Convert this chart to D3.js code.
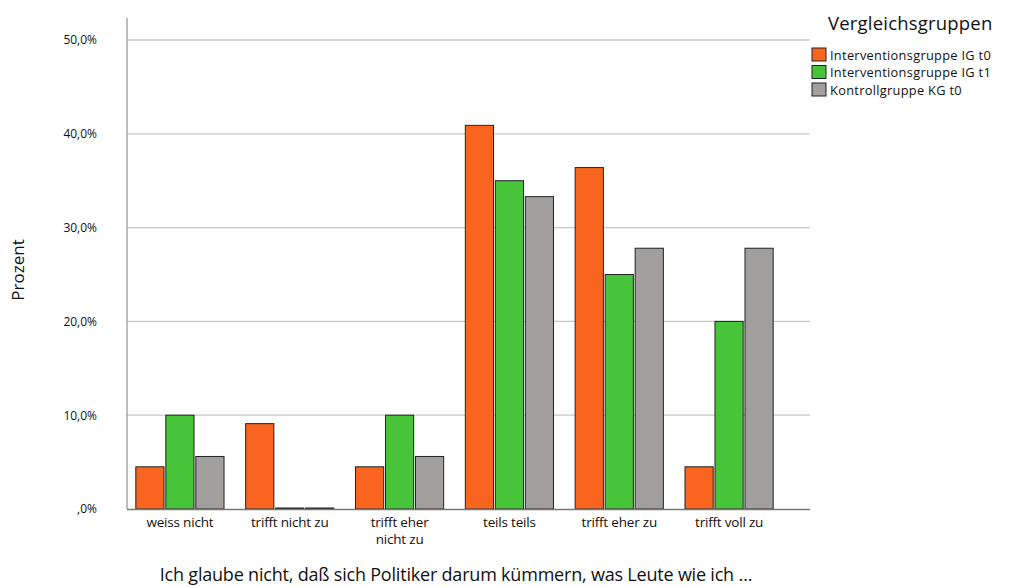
<!DOCTYPE html>
<html>
<head>
<meta charset="utf-8">
<script src="https://cdn.jsdelivr.net/npm/d3@7"></script>
<style>
  body { margin: 0; background: #fff; }
  svg { display: block; }
  text { font-family: "Open Sans", "Noto Sans", sans-serif; fill: #111; }
</style>
</head>
<body>
<svg id="chart" width="1014" height="587"></svg>
<script>
const categories = [["weiss nicht"], ["trifft nicht zu"], ["trifft eher", "nicht zu"], ["teils teils"], ["trifft eher zu"], ["trifft voll zu"]];
const seriesNames = ["Interventionsgruppe IG t0", "Interventionsgruppe IG t1", "Kontrollgruppe KG t0"];
const igT0 = [4.5, 9.1, 4.5, 40.9, 36.4, 4.5];
const igT1 = [10.0, 0.0, 10.0, 35.0, 25.0, 20.0];
const kgT0 = [5.6, 0.0, 5.6, 33.3, 27.8, 27.8];
const yTicks = [0, 10, 20, 30, 40, 50];
const colors = ["#f9641f", "#47c43a", "#a19e9e"];

const series = [igT0, igT1, kgT0];
const svg = d3.select("#chart");

const plot = { left: 127, right: 810, top: 18, bottom: 509 };
const y = d3.scaleLinear().domain([0, 50]).range([plot.bottom, 40]);
const x0 = d3.scaleBand().domain(d3.range(categories.length)).range([125, 784]).padding(0);
const groupW = 90;
const x1 = d3.scaleBand().domain(d3.range(series.length)).range([0, groupW]).paddingInner(0.06).paddingOuter(0.03);

// gridlines
svg.append("g").selectAll("line").data(yTicks.filter(d => d > 0)).join("line")
  .attr("x1", plot.left).attr("x2", plot.right)
  .attr("y1", d => y(d)).attr("y2", d => y(d))
  .attr("stroke", "#c8c8c8").attr("stroke-width", 1.3);

// y axis
const yAxis = d3.axisLeft(y).tickValues(yTicks).tickSize(0).tickPadding(8)
  .tickFormat(d => d === 0 ? ",0%" : d3.format(".1f")(d).replace(".", ",") + "%");
const gy = svg.append("g").attr("transform", `translate(${plot.left},0)`).call(yAxis);
gy.select(".domain").remove();
gy.selectAll("text").attr("font-size", 12).attr("fill", "#222")
  .style("font-family", "'Open Sans', sans-serif").attr("x", -30);
svg.append("line").attr("x1", plot.left).attr("x2", plot.left)
  .attr("y1", plot.top).attr("y2", plot.bottom).attr("stroke", "#9a9a9a").attr("stroke-width", 1.3);

// bars
const groups = svg.append("g").selectAll("g").data(categories).join("g")
  .attr("transform", (d, i) => `translate(${x0(i) + (x0.bandwidth() - groupW) / 2},0)`);
groups.selectAll("rect").data((d, i) => series.map((s, k) => ({ k, v: s[i] }))).join("rect")
  .attr("x", d => x1(d.k))
  .attr("width", x1.bandwidth())
  .attr("y", d => y(d.v) - (d.v === 0 ? 1 : 0))
  .attr("height", d => plot.bottom - y(d.v) + (d.v === 0 ? 1 : 0))
  .attr("fill", d => colors[d.k])
  .attr("stroke", "#222").attr("stroke-width", 1);

// x axis line
svg.append("line").attr("x1", plot.left).attr("x2", plot.right)
  .attr("y1", plot.bottom + 0.5).attr("y2", plot.bottom + 0.5).attr("stroke", "#777").attr("stroke-width", 1.3);

// category labels
const xAxis = d3.axisBottom(x0).tickSize(0).tickFormat(() => "");
const gx = svg.append("g").attr("transform", `translate(0,${plot.bottom})`).call(xAxis);
gx.select(".domain").remove();
gx.selectAll(".tick").each(function(d) {
  const t = d3.select(this).append("text").attr("text-anchor", "middle")
    .attr("font-size", 13.5).attr("fill", "#111").style("letter-spacing", "-0.2px")
    .style("font-family", "'Open Sans', sans-serif");
  categories[d].forEach((line, j) => {
    t.append("tspan").attr("x", 0).attr("y", 18 + j * 17).text(line);
  });
});

// axis titles
svg.append("text").attr("transform", "translate(24,270) rotate(-90)")
  .attr("text-anchor", "middle").attr("font-size", 17).text("Prozent");
svg.append("text").attr("x", 456).attr("y", 581).attr("text-anchor", "middle")
  .attr("font-size", 18).style("letter-spacing", "-0.2px")
  .text("Ich glaube nicht, daß sich Politiker darum kümmern, was Leute wie ich …");

// legend
const lg = svg.append("g");
lg.append("text").attr("x", 828).attr("y", 30).attr("font-size", 18.5).style("letter-spacing", "0.2px")
  .text("Vergleichsgruppen");
const items = lg.selectAll("g").data(seriesNames).join("g")
  .attr("transform", (d, i) => `translate(812,${48 + i * 17.5})`);
items.append("rect").attr("width", 14).attr("height", 13)
  .attr("fill", (d, i) => colors[i]).attr("stroke", "#222").attr("stroke-width", 1);
items.append("text").attr("x", 18).attr("y", 11.5).attr("font-size", 12.8)
  .style("letter-spacing", "0.3px").text(d => d);
</script>
</body>
</html>
